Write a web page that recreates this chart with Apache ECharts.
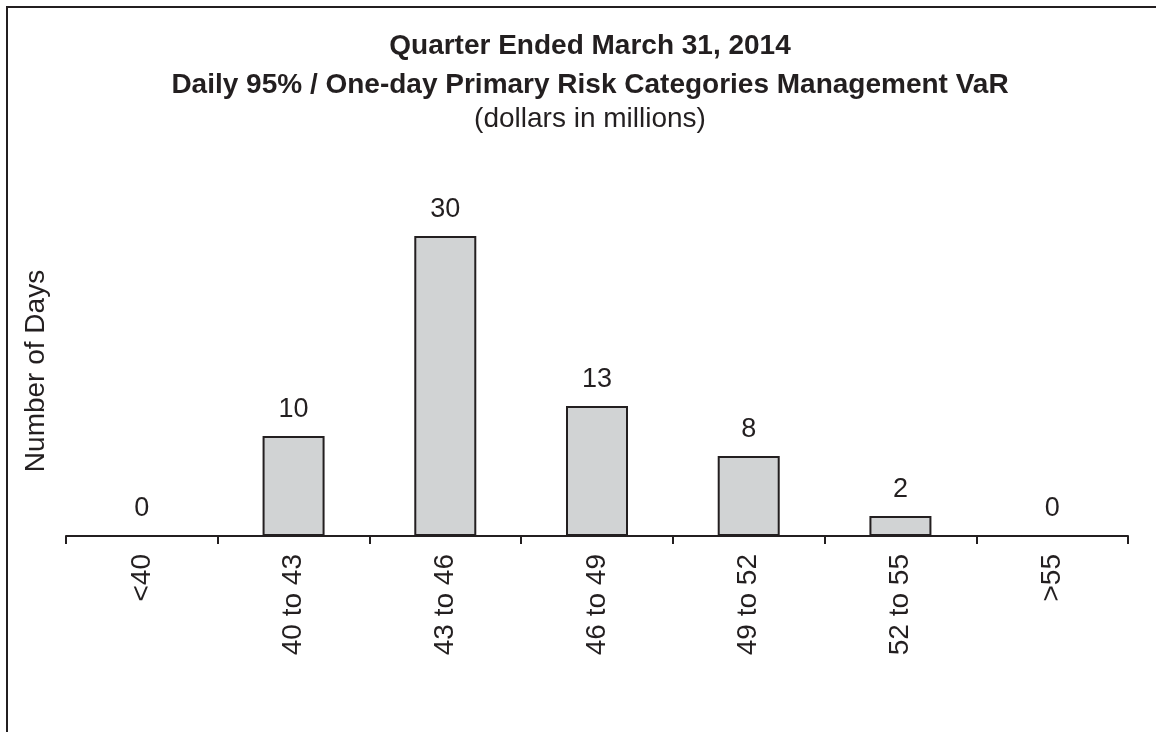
<!DOCTYPE html>
<html>
<head>
<meta charset="utf-8">
<title>Management VaR</title>
<script src="https://cdn.jsdelivr.net/npm/echarts@6/dist/echarts.min.js"></script>
<style>
	html, body { margin: 0; padding: 0; background: #fff; }
	#chart { width: 1156px; height: 732px; }
</style>
</head>
<body>
<div id="chart"></div>
<script>
	// 数据
	var categories = ['<40', '40 to 43', '43 to 46', '46 to 49', '49 to 52', '52 to 55', '>55'];
	var days = [0, 10, 30, 13, 8, 2, 0];
	var titleLines = [
		'Quarter Ended March 31, 2014',
		'Daily 95% / One-day Primary Risk Categories Management VaR',
		'(dollars in millions)'
	];

	var ink = '#231f20';
	var font = '"Liberation Sans", Arial, sans-serif';

	var myChart = echarts.init(document.getElementById('chart'));
	var option = {
		backgroundColor: '#fff',
		animation: false,
		textStyle: { fontFamily: font, color: ink },
		title: [{
			text: titleLines[0],
			left: 590, top: 28, textAlign: 'center', padding: 0,
			textStyle: { fontFamily: font, fontSize: 28, fontWeight: 'bold', color: ink, lineHeight: 36 }
		}, {
			text: titleLines[1],
			left: 590, top: 67, textAlign: 'center', padding: 0,
			textStyle: { fontFamily: font, fontSize: 28, fontWeight: 'bold', color: ink, lineHeight: 36 }
		}, {
			text: titleLines[2],
			left: 590, top: 101, textAlign: 'center', padding: 0,
			textStyle: { fontFamily: font, fontSize: 28, fontWeight: 'normal', color: ink, lineHeight: 36 }
		}],
		graphic: [{
			type: 'rect',
			shape: { x: 7, y: 7, width: 1300, height: 900 },
			style: { fill: 'none', stroke: ink, lineWidth: 2 },
			silent: true
		}],
		grid: {
			left: 66,
			right: 28,
			top: 206,
			bottom: 196
		},
		xAxis: {
			type: 'category',
			data: categories,
			boundaryGap: true,
			axisLine: { lineStyle: { color: ink, width: 2 } },
			axisTick: { show: true, length: 8, inside: false, lineStyle: { color: ink, width: 2 } },
			axisLabel: {
				rotate: 90,
				margin: 18,
				fontSize: 28,
				fontFamily: font,
				color: ink,
				interval: 0
			}
		},
		yAxis: {
			type: 'value',
			min: 0,
			max: 33,
			name: 'Number of Days',
			nameLocation: 'middle',
			nameGap: 16,
			nameTextStyle: { fontSize: 28, fontFamily: font, color: ink },
			axisLine: { show: false },
			axisTick: { show: false },
			axisLabel: { show: false },
			splitLine: { show: false }
		},
		series: [{
			name: 'Number of Days',
			type: 'bar',
			data: days,
			barWidth: 62,
			itemStyle: { color: '#d1d3d4', borderColor: ink, borderWidth: 2 },
			label: {
				show: true,
				position: 'top',
				distance: 13,
				fontSize: 27,
				fontFamily: font,
				color: ink
			}
		}]
	};
	myChart.setOption(option);
</script>
</body>
</html>
